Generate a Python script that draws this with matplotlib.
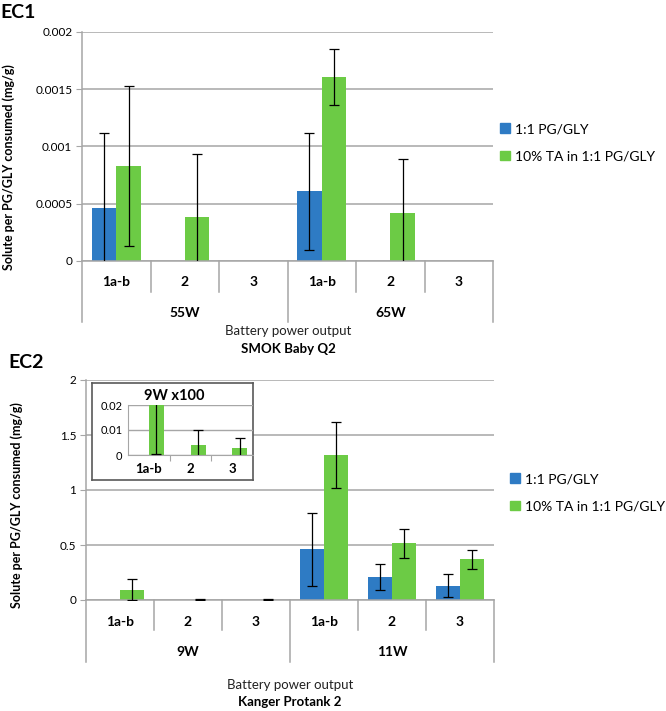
import numpy as np
import matplotlib
matplotlib.use('Agg')
import matplotlib.pyplot as plt
import matplotlib.transforms as mtransforms
from matplotlib.patches import Patch

plt.rcParams['font.family'] = ['Lato', 'DejaVu Sans']

nan = np.nan
cats = ['1a-b', '2', '3']
series_names = ['1:1 PG/GLY', '10% TA in 1:1 PG/GLY']

ec1_groups = ['55W', '65W']
ec1_blue = [0.00046, nan, nan, 0.00061, nan, nan]
ec1_blue_err = [0.00066, nan, nan, 0.00051, nan, nan]
ec1_green = [0.00083, 0.000385, nan, 0.00161, 0.000423, nan]
ec1_green_err = [0.0007, 0.00055, nan, 0.000245, 0.00047, nan]
ec1_ticks = [0, 0.0005, 0.001, 0.0015, 0.002]
ec1_ticklabels = ['0', '0.0005', '0.001', '0.0015', '0.002']

ec2_groups = ['9W', '11W']
ec2_blue = [nan, nan, nan, 0.461, 0.206, 0.13]
ec2_blue_err = [nan, nan, nan, 0.33, 0.118, 0.103]
ec2_green = [0.094, 0.004, 0.0027, 1.318, 0.515, 0.37]
ec2_green_err = [0.0936, 0.006, 0.0042, 0.303, 0.135, 0.087]
ec2_ticks = [0, 0.5, 1, 1.5, 2]
ec2_ticklabels = ['0', '0.5', '1', '1.5', '2']

inset_ticks = [0, 0.01, 0.02]
inset_ticklabels = ['0', '0.01', '0.02']

BLUE = '#2E7BC4'
GREEN = '#6CCB45'
GRID = '#A6A6A6'
W, H = 666, 711


def fig_rect(x0, y0, x1, y1):
    # pixel box (top-left origin) -> figure fraction
    return [x0 / W, 1 - y1 / H, (x1 - x0) / W, (y1 - y0) / H]


def draw_bars(ax, x, vals, errs, off, color, width=0.36):
    vals = np.array(vals, float)
    errs = np.array(errs, float)
    m = ~np.isnan(vals)
    ax.bar(x[m] + off, vals[m], width=width, color=color, zorder=2)
    ax.errorbar(x[m] + off, vals[m], yerr=errs[m], fmt='none', ecolor='black',
                elinewidth=0.9, capsize=3.5, capthick=0.9, zorder=3)


def panel(ax, groups, blue, blue_err, green, green_err, ticks, ticklabels,
          lab_y, sep_y, grp_sep_y, grp_y):
    x = np.arange(len(groups) * len(cats))
    draw_bars(ax, x, blue, blue_err, -0.18, BLUE)
    draw_bars(ax, x, green, green_err, 0.18, GREEN)
    ax.set_xlim(-0.5, len(x) - 0.5)
    ax.set_ylim(ticks[0], ticks[-1])
    ax.set_yticks(ticks)
    ax.set_yticklabels(ticklabels, fontsize=8.5)
    ax.yaxis.grid(True, color=GRID, lw=1.1)
    ax.set_axisbelow(True)
    ax.tick_params(axis='y', length=4, color=GRID, pad=3)
    ax.set_xticks([])
    for s in ['top', 'right']:
        ax.spines[s].set_visible(False)
    for s in ['left', 'bottom']:
        ax.spines[s].set_color(GRID)
        ax.spines[s].set_linewidth(1.1)
    tr = mtransforms.blended_transform_factory(ax.transData, ax.transAxes)
    for i, xi in enumerate(x):
        ax.text(xi, lab_y, cats[i % 3], transform=tr, ha='center', va='center',
                fontsize=10, fontweight='bold')
    for b in np.arange(len(x) + 1) - 0.5:
        low = grp_sep_y if (b + 0.5) % 3 == 0 else sep_y
        ax.plot([b, b], [0, low], transform=tr, color=GRID, lw=1.1, clip_on=False)
    for g, name in enumerate(groups):
        ax.text(g * 3 + 1, grp_y, name, transform=tr, ha='center', va='center',
                fontsize=10, fontweight='bold')


fig = plt.figure(figsize=(W / 100, H / 100), dpi=100)

# EC1
ax1 = fig.add_axes(fig_rect(82, 32, 493, 261))
panel(ax1, ec1_groups, ec1_blue, ec1_blue_err, ec1_green, ec1_green_err,
      ec1_ticks, ec1_ticklabels, -21 / 229, -31 / 229, -61 / 229, -52 / 229)
fig.text(0 / W, 1 - 12 / H, 'EC1', fontsize=14, fontweight='bold', va='center')
fig.text(8.5 / W, 1 - 167 / H, 'Solute per PG/GLY consumed (mg/g)', rotation=90,
         ha='center', va='center', fontsize=9, fontweight='bold')
fig.text(288 / W, 1 - 331 / H, 'Battery power output', ha='center', va='center',
         fontsize=9.5, color='#222222')
fig.text(288 / W, 1 - 349 / H, 'SMOK Baby Q2', ha='center', va='center',
         fontsize=9.5, fontweight='bold')
handles = [Patch(color=BLUE), Patch(color=GREEN)]
fig.legend(handles, series_names, loc='upper left', bbox_to_anchor=(500 / W, 1 - 123 / H),
           frameon=False, fontsize=10, handlelength=0.7, handleheight=0.7,
           handletextpad=0.4, labelspacing=1.1, borderpad=0, borderaxespad=0)

# EC2
ax2 = fig.add_axes(fig_rect(86, 380, 494, 600))
panel(ax2, ec2_groups, ec2_blue, ec2_blue_err, ec2_green, ec2_green_err,
      ec2_ticks, ec2_ticklabels, -22 / 220, -30 / 220, -62 / 220, -52 / 220)
fig.text(8 / W, 1 - 363 / H, 'EC2', fontsize=14, fontweight='bold', va='center')
fig.text(17 / W, 1 - 505 / H, 'Solute per PG/GLY consumed (mg/g)', rotation=90,
         ha='center', va='center', fontsize=9, fontweight='bold')
fig.text(290 / W, 1 - 685 / H, 'Battery power output', ha='center', va='center',
         fontsize=9.5, color='#222222')
fig.text(290 / W, 1 - 702 / H, 'Kanger Protank 2', ha='center', va='center',
         fontsize=9.5, fontweight='bold')
fig.legend(handles, series_names, loc='upper left', bbox_to_anchor=(510 / W, 1 - 473 / H),
           frameon=False, fontsize=10, handlelength=0.7, handleheight=0.7,
           handletextpad=0.4, labelspacing=1.1, borderpad=0, borderaxespad=0)

# inset box and inset chart (9W x100)
box = fig.add_axes(fig_rect(92, 383, 253, 480), zorder=3)
box.set_xticks([])
box.set_yticks([])
for s in box.spines.values():
    s.set_color('#595959')
    s.set_linewidth(1.2)

axi = fig.add_axes(fig_rect(128, 405, 253, 455), zorder=4)
axi.patch.set_alpha(0)
xi = np.arange(3)
draw_bars(axi, xi, ec2_blue[:3], ec2_blue_err[:3], -0.18, BLUE)
draw_bars(axi, xi, ec2_green[:3], ec2_green_err[:3], 0.18, GREEN)
axi.set_xlim(-0.5, 2.5)
axi.set_ylim(0, 0.02)
axi.set_yticks(inset_ticks)
axi.set_yticklabels(inset_ticklabels, fontsize=8)
axi.yaxis.grid(True, color=GRID, lw=1)
axi.set_axisbelow(True)
axi.set_xticks([0.5, 1.5])
axi.set_xticklabels([])
axi.set_xticks(xi, minor=True)
axi.set_xticklabels(cats, minor=True, fontsize=9.5, fontweight='bold')
axi.tick_params(axis='x', which='major', length=4, color=GRID)
axi.tick_params(axis='x', which='minor', length=0, pad=6)
axi.tick_params(axis='y', length=0, pad=4)
for s in ['top', 'right']:
    axi.spines[s].set_visible(False)
for s in ['left', 'bottom']:
    axi.spines[s].set_color(GRID)
fig.text(174 / W, 1 - 396 / H, '9W x100', ha='center', va='center',
         fontsize=10.5, fontweight='bold', zorder=5)

fig.savefig('out.png', dpi=100)
